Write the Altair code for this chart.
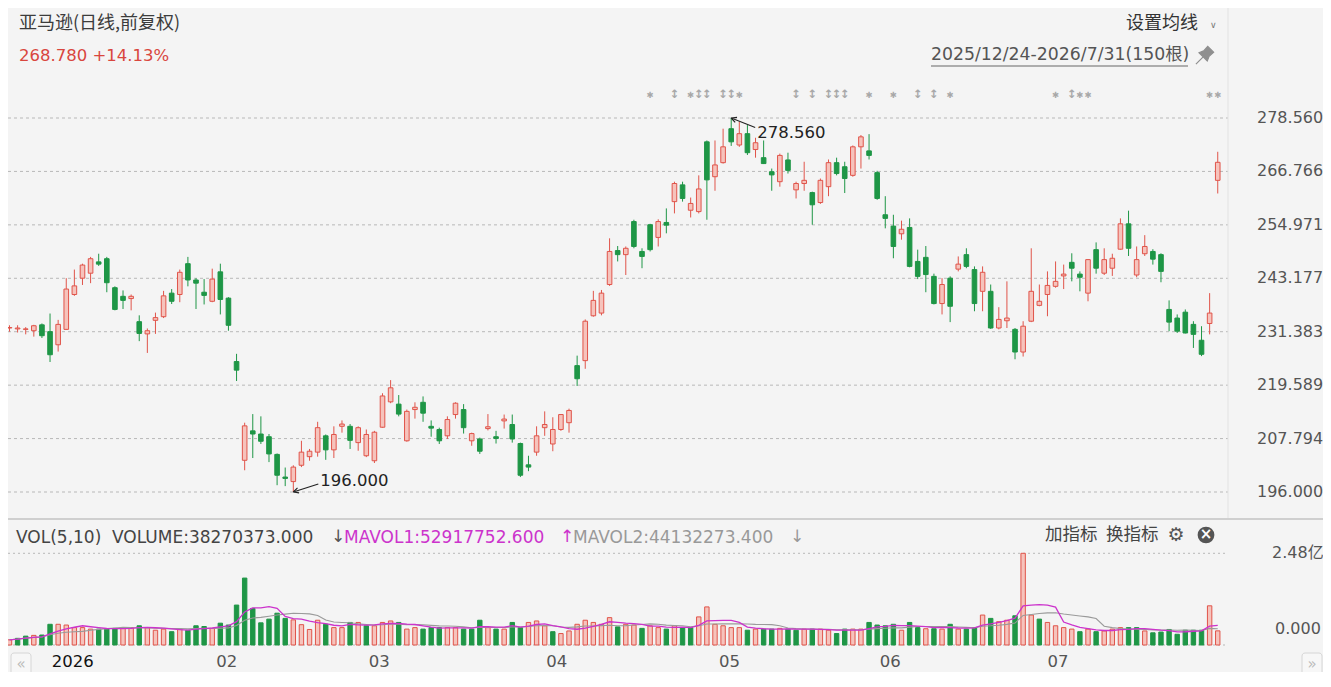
import altair as alt
import pandas as pd
import numpy as np

# ---------------- data ----------------
opens = [232.2, 232.0, 231.9, 231.6, 232.9, 231.4, 228.5, 231.9, 239.6, 243.2,
         244.3, 246.8, 247.5, 241.1, 239.2, 238.7, 233.6, 230.9, 233.9, 234.7,
         239.9, 239.6, 246.4, 242.8, 240.1, 238.1, 244.6, 238.8, 224.8, 203.0,
         209.5, 208.8, 208.2, 204.3, 199.3, 198.3, 201.9, 203.8, 204.8, 208.4,
         205.3, 210.5, 210.5, 206.9, 204.0, 202.9, 210.3, 215.9, 215.4, 207.3,
         214.2, 215.8, 210.5, 209.8, 208.4, 213.1, 214.2, 207.3, 207.7, 210.0,
         208.2, 211.7, 210.9, 206.7, 202.0, 204.8, 210.2, 206.6, 209.8, 211.3,
         223.9, 225.0, 234.9, 235.5, 241.8, 249.3, 248.4, 255.7, 249.1, 255.0,
         252.2, 255.5, 260.1, 263.8, 258.2, 257.9, 273.3, 265.6, 268.7, 276.2,
         272.6, 275.1, 271.6, 269.8, 266.7, 264.5, 269.3, 262.7, 264.1, 262.1,
         259.9, 263.4, 268.7, 267.8, 265.9, 272.2, 271.3, 266.5, 257.2, 254.7,
         253.0, 254.4, 246.9, 247.8, 243.6, 237.6, 243.2, 245.2, 248.4, 245.1,
         240.3, 240.3, 232.2, 233.8, 231.9, 226.9, 233.7, 237.2, 239.6, 241.4,
         243.7, 246.7, 244.1, 239.9, 249.5, 244.3, 245.4, 249.6, 255.2, 243.9,
         248.6, 249.1, 248.4, 236.3, 234.4, 235.7, 233.0, 229.5, 233.2, 264.8]
highs = [232.8, 232.8, 232.4, 232.9, 233.2, 235.4, 234.0, 243.2, 245.1, 246.4,
         247.9, 248.6, 247.9, 241.4, 240.5, 239.6, 235.0, 232.1, 235.6, 240.4,
         240.8, 245.1, 247.9, 243.2, 243.0, 245.3, 246.4, 239.0, 226.5, 211.3,
         213.2, 212.7, 208.8, 204.5, 201.4, 201.9, 207.3, 205.5, 211.5, 208.7,
         210.5, 211.8, 211.0, 210.5, 209.8, 209.5, 217.8, 220.7, 217.4, 214.2,
         215.8, 217.1, 211.8, 210.2, 212.7, 215.8, 215.4, 209.1, 208.0, 213.2,
         209.5, 213.1, 213.1, 206.9, 204.0, 210.5, 213.8, 212.5, 213.2, 214.4,
         226.1, 234.1, 240.4, 240.6, 252.0, 250.3, 250.2, 256.1, 249.8, 255.2,
         256.2, 258.6, 264.5, 264.5, 261.0, 265.9, 273.6, 273.6, 276.2, 278.56,
         277.7, 277.0, 274.2, 273.6, 267.4, 270.7, 270.9, 264.5, 268.9, 262.3,
         265.2, 269.4, 269.8, 268.9, 272.5, 274.8, 275.0, 266.9, 261.3, 257.2,
         255.9, 256.4, 249.5, 250.3, 244.2, 243.2, 243.6, 248.0, 249.8, 245.8,
         245.8, 241.8, 236.8, 242.5, 232.2, 233.7, 249.8, 241.8, 244.7, 246.9,
         246.2, 248.7, 244.7, 247.4, 251.1, 249.8, 248.6, 256.4, 258.1, 250.2,
         252.7, 249.6, 248.7, 238.3, 235.2, 236.3, 233.7, 232.6, 239.9, 271.1]
lows = [231.4, 231.2, 230.8, 230.3, 230.0, 224.7, 227.0, 231.8, 239.3, 241.7,
        242.1, 245.9, 240.1, 236.1, 236.4, 236.1, 229.3, 226.7, 230.9, 234.4,
        237.5, 237.9, 241.4, 236.4, 237.4, 237.9, 235.2, 231.6, 220.5, 200.8,
        203.5, 206.6, 202.6, 197.5, 197.3, 196.0, 201.5, 202.9, 203.8, 203.1,
        203.5, 209.1, 205.5, 205.1, 203.7, 202.4, 210.2, 215.6, 212.7, 207.1,
        212.2, 211.5, 208.2, 206.6, 207.7, 212.2, 208.9, 206.2, 204.4, 209.6,
        206.7, 210.0, 206.9, 199.3, 200.6, 204.0, 208.4, 205.0, 209.5, 209.1,
        219.4, 223.2, 234.7, 235.0, 241.5, 246.9, 243.9, 249.8, 245.4, 249.1,
        250.2, 253.1, 257.5, 260.1, 256.6, 257.5, 256.1, 262.5, 268.5, 272.4,
        272.2, 270.4, 269.8, 268.4, 262.5, 263.4, 266.3, 260.8, 262.5, 255.0,
        259.6, 261.3, 265.9, 262.0, 265.6, 267.4, 269.4, 260.5, 254.2, 247.6,
        251.7, 245.6, 243.0, 240.1, 237.4, 235.2, 233.5, 244.7, 245.4, 235.9,
        235.9, 232.0, 231.9, 232.2, 225.3, 225.9, 233.5, 237.0, 234.8, 241.1,
        240.8, 242.5, 240.3, 238.1, 244.2, 243.9, 243.7, 249.5, 248.1, 243.4,
        248.1, 246.2, 242.3, 231.5, 231.1, 231.0, 227.8, 226.0, 230.8, 261.9]
closes = [232.3, 232.2, 232.0, 232.7, 230.5, 226.3, 233.0, 240.8, 241.5, 246.1,
          247.5, 246.3, 242.2, 236.3, 238.3, 239.2, 231.0, 231.6, 234.5, 239.3,
          238.1, 244.5, 242.8, 242.1, 239.4, 243.0, 238.5, 232.8, 222.9, 210.6,
          208.8, 207.2, 204.4, 199.7, 199.0, 201.5, 204.8, 205.0, 210.2, 205.3,
          208.7, 211.0, 207.4, 210.2, 208.7, 209.2, 217.2, 219.0, 213.2, 213.8,
          214.7, 213.4, 210.1, 207.3, 212.0, 215.6, 210.2, 208.9, 205.0, 210.4,
          207.8, 212.1, 207.7, 199.7, 201.5, 208.4, 210.9, 209.8, 213.1, 214.0,
          221.0, 233.7, 238.3, 239.9, 249.1, 248.4, 249.8, 250.2, 248.0, 249.5,
          255.7, 254.9, 264.1, 260.8, 259.7, 262.9, 264.9, 268.2, 272.2, 273.3,
          275.1, 270.9, 273.1, 268.5, 266.0, 270.3, 267.0, 264.1, 264.8, 259.4,
          264.8, 268.7, 266.3, 265.2, 272.2, 274.4, 270.3, 260.8, 256.4, 250.2,
          254.0, 245.8, 243.6, 244.0, 237.6, 241.8, 237.0, 246.3, 245.8, 237.6,
          244.5, 232.2, 234.1, 234.4, 226.9, 232.6, 240.3, 238.1, 241.6, 242.5,
          244.1, 245.4, 243.4, 247.3, 245.4, 247.3, 247.6, 255.2, 249.8, 247.3,
          250.2, 247.4, 244.7, 233.5, 231.5, 231.1, 230.8, 226.4, 235.5, 268.78]
volumes_m = [14, 18, 24, 26, 27, 56, 56, 54, 47, 47,
             43, 43, 43, 45, 47, 47, 52, 47, 40, 43,
             36, 43, 40, 52, 50, 45, 59, 54, 108, 181,
             99, 60, 70, 86, 72, 68, 55, 42, 67, 56,
             47, 47, 61, 61, 52, 52, 61, 65, 61, 43,
             47, 43, 47, 47, 47, 47, 43, 43, 67, 47,
             43, 43, 61, 47, 61, 65, 52, 36, 31, 38,
             56, 67, 61, 56, 74, 49, 56, 54, 45, 52,
             47, 43, 52, 47, 47, 76, 103, 56, 52, 47,
             47, 40, 43, 43, 43, 45, 43, 40, 43, 43,
             43, 40, 31, 43, 43, 43, 61, 54, 52, 56,
             40, 61, 47, 44, 44, 43, 56, 43, 43, 47,
             81, 72, 63, 67, 79, 248, 81, 70, 61, 52,
             47, 43, 36, 43, 36, 38, 43, 47, 47, 47,
             38, 33, 35, 42, 29, 40, 40, 40, 106, 38.270373]

grid_values = [278.560, 266.766, 254.971, 243.177, 231.383, 219.589, 207.794, 196.000]
grid_labels = ["278.560", "266.766", "254.971", "243.177", "231.383", "219.589", "207.794", "196.000"]
vol_grid_values = [248e6, 0]
month_pos = [7.8, 26.8, 45.6, 67.5, 88.8, 108.6, 129.3]
month_labels = ["2026", "02", "03", "04", "05", "06", "07"]
event_idx = [79, 82, 84, 85, 86, 88, 89, 90, 97, 99, 101, 102, 103, 106, 109,
             112, 114, 116, 129, 131, 132, 133, 148, 149]
event_kind = ["*", "↕", "*", "↕", "↕", "↕", "↕", "*", "↕", "↕", "↕", "↕", "↕", "*", "*",
              "↕", "↕", "*", "*", "↕", "*", "*", "*", "*"]

title_text = "亚马逊(日线,前复权)"
last_text = "268.780 +14.13%"
range_text = "2025/12/24-2026/7/31(150根)"
vol_text = "VOLUME:38270373.000"
ma1_text = "MAVOL1:52917752.600"
ma2_text = "MAVOL2:44132273.400"

# ---------------- styling ----------------
CJK = "Noto Sans CJK SC"
LAT = "DejaVu Sans, Noto Sans CJK SC"
BG = "#f4f4f4"
RED_S = "#e0544a"
RED_F = "#f6c3bc"
GREEN = "#1e9646"
TXT = "#4a4a4a"

W, H = 1315, 664
PLOT_R = 1220

n = len(closes)
df = pd.DataFrame({"idx": np.arange(n), "o": opens, "h": highs, "l": lows,
                   "c": closes, "v": np.array(volumes_m) * 1e6})
up = df["c"] >= df["o"]
prev = df["c"].shift(1).fillna(df["o"])
vup = df["c"] >= prev
df["stroke"] = np.where(up, RED_S, GREEN)
df["fill"] = np.where(up, RED_F, GREEN)
df["vstroke"] = np.where(vup, RED_S, GREEN)
df["vfill"] = np.where(vup, RED_F, GREEN)

xs = alt.Scale(domain=[-0.185, 161.98], nice=False, zero=False, padding=0)
ps = alt.Scale(domain=[156.265, 302.843], nice=False, zero=False, padding=0)
vs = alt.Scale(domain=[-73.02e6, 1722.75e6], nice=False, zero=False, padding=0)

X = alt.X("idx:Q", scale=xs, axis=None)

layers = []

def txt(s, x, y, size=17, color=TXT, align="left", weight="normal", font=LAT):
    return alt.Chart(pd.DataFrame({"t": [s]})).mark_text(
        align=align, baseline="middle", fontSize=size, color=color,
        font=font, fontWeight=weight
    ).encode(x=alt.value(x), y=alt.value(y), text="t:N")

def hline(y, x1, x2, color, width=1, dash=None):
    kw = dict(color=color, strokeWidth=width)
    if dash:
        kw["strokeDash"] = dash
    return alt.Chart(pd.DataFrame({"a": [0]})).mark_rule(**kw).encode(
        x=alt.value(x1), x2=alt.value(x2), y=alt.value(y))

# price gridlines and labels
gdf = pd.DataFrame({"v": grid_values, "lab": grid_labels})
layers.append(alt.Chart(gdf).mark_rule(color="#b8b8b8", strokeDash=[3, 3], strokeWidth=1).encode(
    y=alt.Y("v:Q", scale=ps, axis=None), x=alt.value(0), x2=alt.value(PLOT_R)))
layers.append(alt.Chart(gdf).mark_text(align="left", baseline="middle", fontSize=16,
                                       color="#555555", font=LAT).encode(
    y=alt.Y("v:Q", scale=ps, axis=None), x=alt.value(1249), text="lab:N"))

# faint vertical separator between plot and labels
layers.append(alt.Chart(pd.DataFrame({"a": [0]})).mark_rule(color="#e2e2e2").encode(
    x=alt.value(PLOT_R), y=alt.value(0), y2=alt.value(511)))

# candle wicks and bodies
layers.append(alt.Chart(df).mark_rule(strokeWidth=1).encode(
    x=X, y=alt.Y("l:Q", scale=ps, axis=None), y2="h:Q",
    stroke=alt.Stroke("stroke:N", scale=None)))
layers.append(alt.Chart(df).mark_bar(width=4.6, strokeWidth=1).encode(
    x=X, y=alt.Y("o:Q", scale=ps, axis=None), y2="c:Q",
    fill=alt.Fill("fill:N", scale=None), stroke=alt.Stroke("stroke:N", scale=None)))

# max / min annotations
hi_i = int(np.argmax(highs)); hi_v = max(highs)
lo_i = int(np.argmin(lows)); lo_v = min(lows)
PX = 8.109
PY = 4.530
ann = pd.DataFrame({
    "x": [hi_i, lo_i], "y": [hi_v, lo_v],
    "x2": [hi_i + 24 / PX, lo_i + 25 / PX], "y2": [hi_v - 9.5 / PY, lo_v + 8 / PY],
    "tx": [hi_i + 26 / PX, lo_i + 27 / PX], "ty": [hi_v - 15 / PY, lo_v + 11 / PY],
    "lab": [f"{hi_v:.3f}", f"{lo_v:.3f}"],
    "ang": [21, 342]})
layers.append(alt.Chart(ann).mark_rule(color="#222222", strokeWidth=1.1).encode(
    x=alt.X("x:Q", scale=xs, axis=None), x2="x2:Q",
    y=alt.Y("y:Q", scale=ps, axis=None), y2="y2:Q"))
for k in range(2):
    layers.append(alt.Chart(ann.iloc[[k]]).mark_point(
        shape="M0,0L1.5,-0.75M0,0L1.5,0.75", size=49, angle=int(ann["ang"][k]),
        filled=False, color="#222222", strokeWidth=1.2, opacity=1).encode(
        x=alt.X("x:Q", scale=xs, axis=None), y=alt.Y("y:Q", scale=ps, axis=None)))
layers.append(alt.Chart(ann).mark_text(align="left", baseline="middle", fontSize=16.5,
                                       color="#222222", font=LAT).encode(
    x=alt.X("tx:Q", scale=xs, axis=None), y=alt.Y("ty:Q", scale=ps, axis=None), text="lab:N"))

# event markers
edf = pd.DataFrame({"idx": event_idx, "k": event_kind})
edf["g"] = np.where(edf["k"] == "*", "✱", "↕")
layers.append(alt.Chart(edf[edf["k"] == "*"]).mark_text(
    baseline="middle", fontSize=8.5, color="#a8a8a8", font="DejaVu Sans").encode(
    x=X, y=alt.value(87), text="g:N"))
layers.append(alt.Chart(edf[edf["k"] != "*"]).mark_text(
    baseline="middle", fontSize=11.5, color="#a8a8a8", font="DejaVu Sans", fontWeight="bold").encode(
    x=X, y=alt.value(87), text="g:N"))

# header texts
layers.append(txt(title_text, 11, 16, size=18, color="#3c3c3c", font=CJK))
layers.append(txt(last_text, 11, 48, size=16.5, color="#d9463e"))
layers.append(txt("设置均线", 1118, 16, size=18, color="#333333", font=CJK))
layers.append(txt("∨", 1202, 17, size=9, color="#777777", font="DejaVu Sans"))
layers.append(txt(range_text, 923, 47, size=17.3, color="#555555"))
layers.append(hline(58, 923, 1180, "#666666", 1))
layers.append(alt.Chart(pd.DataFrame({"a": [0]})).mark_point(
    shape="M-1,1L-0.2,0.2M-0.65,-0.25L0.25,0.65L0.45,0.15L0.95,-0.3L0.3,-0.95L-0.15,-0.45Z",
    size=330, filled=True, color="#8f8f8f", stroke="#8f8f8f", strokeWidth=1.2,
    opacity=1).encode(x=alt.value(1197), y=alt.value(47)))

# panel separator
layers.append(hline(511, 0, W, "#cfcfcf", 2))

# volume header
layers.append(txt("VOL(5,10)", 8, 530, size=17, color="#444444"))
layers.append(txt(vol_text, 104, 530, size=17, color="#444444"))
layers.append(txt("↓", 323, 529, size=17, color="#555555", font="DejaVu Sans"))
layers.append(txt(ma1_text, 336, 530, size=17, color="#cc33cc"))
layers.append(txt("↑", 552, 529, size=17, color="#cc33cc", font="DejaVu Sans"))
layers.append(txt(ma2_text, 565, 530, size=17, color="#999999"))
layers.append(txt("↓", 782, 529, size=17, color="#999999", font="DejaVu Sans"))
layers.append(txt("加指标", 1037, 527, size=17.5, color="#444444", font=CJK))
layers.append(txt("换指标", 1098, 527, size=17.5, color="#444444", font=CJK))
layers.append(txt("⚙", 1168, 527, size=19, color="#555555", align="center", font="DejaVu Sans"))
layers.append(alt.Chart(pd.DataFrame({"a": [0]})).mark_point(
    shape="circle", size=280, filled=True, color="#555555", opacity=1).encode(
    x=alt.value(1198), y=alt.value(527)))
layers.append(txt("×", 1198, 526, size=15, color="#ffffff", align="center", weight="bold",
                  font="DejaVu Sans"))

# volume grid + labels
vgdf = pd.DataFrame({"v": vol_grid_values})
layers.append(alt.Chart(vgdf).mark_rule(color="#b8b8b8", strokeDash=[2, 3]).encode(
    y=alt.Y("v:Q", scale=vs, axis=None), x=alt.value(0), x2=alt.value(PLOT_R)))
layers.append(txt("2.48亿", 1264, 545, size=16, color="#555555"))
layers.append(txt("0.000", 1267, 621, size=16, color="#555555"))

# volume bars
layers.append(alt.Chart(df).mark_bar(width=4.4, strokeWidth=1).encode(
    x=X, y=alt.Y("v:Q", scale=vs, axis=None), y2=alt.datum(0),
    fill=alt.Fill("vfill:N", scale=None), stroke=alt.Stroke("vstroke:N", scale=None)))

# volume moving averages
layers.append(alt.Chart(df).transform_window(
    ma10="mean(v)", frame=[-9, 0], sort=[alt.SortField("idx")]).mark_line(
    color="#9a9a9a", strokeWidth=1.1).encode(x=X, y=alt.Y("ma10:Q", scale=vs, axis=None)))
layers.append(alt.Chart(df).transform_window(
    ma5="mean(v)", frame=[-4, 0], sort=[alt.SortField("idx")]).mark_line(
    color="#cc33cc", strokeWidth=1.3).encode(x=X, y=alt.Y("ma5:Q", scale=vs, axis=None)))

# month labels
mdf = pd.DataFrame({"idx": month_pos, "lab": month_labels})
mdf["col"] = np.where(mdf["lab"] == "2026", "#111111", "#555555")
layers.append(alt.Chart(mdf).mark_text(align="center", baseline="middle", fontSize=16.5,
                                       font=LAT).encode(
    x=X, y=alt.value(654), text="lab:N", color=alt.Color("col:N", scale=None)))

# scroll buttons
for bx, glyph in [(3, "«"), (1294, "»")]:
    layers.append(alt.Chart(pd.DataFrame({"a": [0]})).mark_rect(
        fill="#f7f7f7", stroke="#d6d6d6", cornerRadius=3).encode(
        x=alt.value(bx), x2=alt.value(bx + 20), y=alt.value(645), y2=alt.value(670)))
    layers.append(txt(glyph, bx + 10, 656, size=15, color="#bbbbbb", align="center",
                      font="DejaVu Sans"))

chart = alt.layer(*layers).resolve_scale(y="independent").properties(
    width=W, height=H, autosize=alt.AutoSizeParams(type="none"), padding=0,
    background=BG
).configure_view(strokeWidth=0)

chart.save("out.html", embed_options={"renderer": "svg", "actions": False})
